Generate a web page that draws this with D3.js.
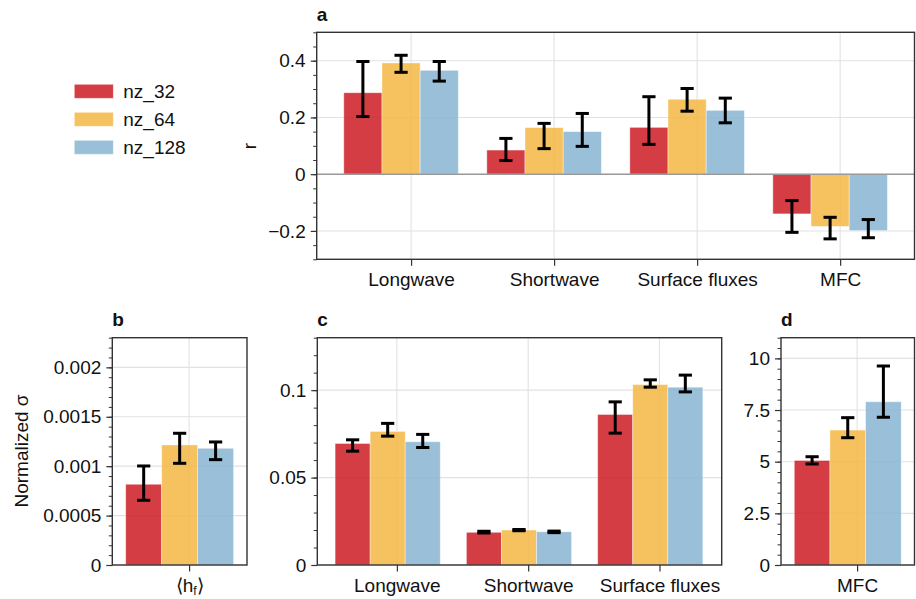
<!DOCTYPE html>
<html>
<head>
<meta charset="utf-8">
<script src="https://cdn.jsdelivr.net/npm/d3@7"></script>
<style>
  html, body { margin: 0; padding: 0; background: #fff; }
  svg { display: block; }
  text { font-family: "Liberation Sans", Arial, Helvetica, sans-serif; fill: #111; }
</style>
</head>
<body>
<svg id="fig" width="916" height="599"></svg>
<script>
// ---- series ----
const SERIES = ["nz_32", "nz_64", "nz_128"];
const COLORS = ["#cc1b23", "#f4b743", "#88b5d2"];

// ---- panel a: correlation r per process ----
const catsA = ["Longwave", "Shortwave", "Surface fluxes", "MFC"];
const rMean = [
  [0.287, 0.085, 0.165, -0.140],
  [0.392, 0.164, 0.264, -0.184],
  [0.366, 0.150, 0.225, -0.199]
];
const rLow = [
  [0.203, 0.048, 0.105, -0.205],
  [0.359, 0.090, 0.222, -0.228],
  [0.328, 0.098, 0.181, -0.224]
];
const rHigh = [
  [0.397, 0.126, 0.273, -0.093],
  [0.419, 0.179, 0.302, -0.152],
  [0.397, 0.214, 0.268, -0.160]
];
const ticksA = [-0.2, 0, 0.2, 0.4];
const tickLabelsA = ["\u22120.2", "0", "0.2", "0.4"];

// ---- panel b: normalized sigma of <h_f> ----
const hfMean = [[0.000817], [0.001215], [0.001181]];
const hfLow  = [[0.000655], [0.001029], [0.001066]];
const hfHigh = [[0.001002], [0.001333], [0.001245]];
const ticksB = [0, 0.0005, 0.001, 0.0015, 0.002];
const tickLabelsB = ["0", "0.0005", "0.001", "0.0015", "0.002"];

// ---- panel c: normalized sigma, radiative and surface terms ----
const catsC = ["Longwave", "Shortwave", "Surface fluxes"];
const sigMean = [
  [0.0695, 0.0187, 0.0861],
  [0.0764, 0.0200, 0.1032],
  [0.0705, 0.0190, 0.1017]
];
const sigLow = [
  [0.0651, 0.0183, 0.0754],
  [0.0737, 0.0196, 0.1017],
  [0.0672, 0.0185, 0.0990]
];
const sigHigh = [
  [0.0716, 0.0193, 0.0933],
  [0.0810, 0.0203, 0.1059],
  [0.0747, 0.0194, 0.1086]
];
const ticksC = [0, 0.05, 0.1];
const tickLabelsC = ["0", "0.05", "0.1"];

// ---- panel d: normalized sigma, MFC ----
const catsD = ["MFC"];
const mfcMean = [[5.06], [6.53], [7.90]];
const mfcLow  = [[4.89], [6.16], [7.15]];
const mfcHigh = [[5.24], [7.13], [9.63]];
const ticksD = [0, 2.5, 5, 7.5, 10];
const tickLabelsD = ["0", "2.5", "5", "7.5", "10"];

// ---- drawing ----
const svg = d3.select("#fig");
const FS = 19;
const BAR_W = 0.267;     // bar width in category units
const TICK_SHIFT = 0.07; // category tick offset from group centre

function drawPanel(cfg) {
  const x = d3.scaleLinear().domain(cfg.xlim).range([cfg.left, cfg.right]);
  const y = d3.scaleLinear().domain(cfg.ylim).range([cfg.bottom, cfg.top]);
  const g = svg.append("g");
  const tickX = cfg.cats.map((c, i) => i + TICK_SHIFT);

  // grid
  g.append("g").selectAll("line.h").data(cfg.ticks).join("line")
    .attr("x1", cfg.left).attr("x2", cfg.right)
    .attr("y1", d => y(d)).attr("y2", d => y(d))
    .attr("stroke", "#e2e2e2").attr("stroke-width", 1.1);
  g.append("g").selectAll("line.v").data(tickX).join("line")
    .attr("x1", d => x(d)).attr("x2", d => x(d))
    .attr("y1", cfg.top).attr("y2", cfg.bottom)
    .attr("stroke", "#e2e2e2").attr("stroke-width", 1.1);

  // bars
  const bars = [];
  cfg.mean.forEach((vals, s) => vals.forEach((v, i) => {
    bars.push({ s, i, v, lo: cfg.low[s][i], hi: cfg.high[s][i],
      xc: i + (s - 1) * BAR_W });
  }));
  g.append("g").selectAll("rect").data(bars).join("rect")
    .attr("x", d => x(d.xc - BAR_W / 2))
    .attr("width", d => x(d.xc + BAR_W / 2) - x(d.xc - BAR_W / 2))
    .attr("y", d => y(Math.max(0, d.v)))
    .attr("height", d => Math.abs(y(d.v) - y(0)))
    .attr("fill", d => COLORS[d.s]).attr("fill-opacity", 0.85)
    .attr("stroke", "#fff").attr("stroke-opacity", 0.5).attr("stroke-width", 0.8);

  // zero line
  if (cfg.ylim[0] < 0) {
    g.append("line").attr("x1", cfg.left).attr("x2", cfg.right)
      .attr("y1", y(0)).attr("y2", y(0))
      .attr("stroke", "#9a9a9a").attr("stroke-width", 1.6);
  }

  // error bars
  const eb = g.append("g").attr("stroke", "#000").attr("stroke-width", 3).attr("fill", "none");
  const cap = 6.6;
  bars.forEach(d => {
    const cx = x(d.xc);
    eb.append("line").attr("x1", cx).attr("x2", cx).attr("y1", y(d.lo)).attr("y2", y(d.hi));
    eb.append("line").attr("x1", cx - cap).attr("x2", cx + cap).attr("y1", y(d.lo)).attr("y2", y(d.lo));
    eb.append("line").attr("x1", cx - cap).attr("x2", cx + cap).attr("y1", y(d.hi)).attr("y2", y(d.hi));
  });

  // minor y ticks
  const minor = d3.range(cfg.ylim[0], cfg.ylim[1] + cfg.minor / 2, cfg.minor)
    .map(v => +v.toFixed(8));
  g.append("g").attr("transform", `translate(${cfg.left},0)`)
    .call(d3.axisLeft(y).tickValues(minor).tickSize(3.5).tickFormat(""))
    .call(a => a.select(".domain").remove())
    .call(a => a.selectAll("line").attr("stroke", "#333").attr("stroke-width", 1));

  // major y ticks
  g.append("g").attr("transform", `translate(${cfg.left},0)`)
    .call(d3.axisLeft(y).tickValues(cfg.ticks).tickSize(6).tickPadding(5)
      .tickFormat((d, i) => cfg.tickLabels[i]))
    .call(a => a.select(".domain").remove())
    .call(a => a.selectAll("line").attr("stroke", "#333").attr("stroke-width", 1.2))
    .call(a => a.selectAll("text").attr("font-size", FS).attr("fill", "#111")
      .attr("font-family", "Liberation Sans, Arial, sans-serif"));

  // x ticks and category labels
  const xa = g.append("g").attr("transform", `translate(0,${cfg.bottom})`)
    .call(d3.axisBottom(x).tickValues(tickX).tickSize(6.5).tickPadding(7)
      .tickFormat((d, i) => cfg.cats[i]))
    .call(a => a.select(".domain").remove())
    .call(a => a.selectAll("line").attr("stroke", "#333").attr("stroke-width", 1.2))
    .call(a => a.selectAll("text").attr("font-size", FS).attr("fill", "#111")
      .attr("font-family", "Liberation Sans, Arial, sans-serif"));
  if (cfg.labelFn) cfg.labelFn(xa.selectAll("text"));

  // frame
  g.append("rect").attr("x", cfg.left).attr("y", cfg.top)
    .attr("width", cfg.right - cfg.left).attr("height", cfg.bottom - cfg.top)
    .attr("fill", "none").attr("stroke", "#333").attr("stroke-width", 1.4);

  // panel letter
  svg.append("text").attr("x", cfg.left).attr("y", cfg.top - 11.5)
    .attr("font-size", FS).attr("font-weight", "bold").text(cfg.letter);
}

drawPanel({
  letter: "a", left: 316.7, right: 914.5, top: 32.3, bottom: 259.3,
  xlim: [-0.59, 3.59], ylim: [-0.3, 0.5], minor: 0.05,
  ticks: ticksA, tickLabels: tickLabelsA, cats: catsA,
  mean: rMean, low: rLow, high: rHigh
});
drawPanel({
  letter: "b", left: 112.3, right: 247, top: 337.7, bottom: 565,
  xlim: [-0.5, 0.5], ylim: [0, 0.0023], minor: 0.0001,
  ticks: ticksB, tickLabels: tickLabelsB, cats: ["hf"],
  mean: hfMean, low: hfLow, high: hfHigh,
  labelFn: sel => {
    sel.text(null);
    sel.append("tspan").text("\u27E8h");
    sel.append("tspan").attr("font-size", 12).attr("dy", 3).text("f");
    sel.append("tspan").attr("dy", -3).text("\u27E9");
  }
});
drawPanel({
  letter: "c", left: 317.3, right: 721.7, top: 337.7, bottom: 565,
  xlim: [-0.536, 2.544], ylim: [0, 0.13], minor: 0.01,
  ticks: ticksC, tickLabels: tickLabelsC, cats: catsC,
  mean: sigMean, low: sigLow, high: sigHigh
});
drawPanel({
  letter: "d", left: 781, right: 914.5, top: 337.7, bottom: 565,
  xlim: [-0.5, 0.5], ylim: [0, 11], minor: 0.5,
  ticks: ticksD, tickLabels: tickLabelsD, cats: catsD,
  mean: mfcMean, low: mfcLow, high: mfcHigh
});

// axis titles
svg.append("text").attr("transform", "translate(256,146) rotate(-90)")
  .attr("text-anchor", "middle").attr("font-size", FS).text("r");
svg.append("text").attr("transform", "translate(28,451) rotate(-90)")
  .attr("text-anchor", "middle").attr("font-size", FS).text("Normalized \u03C3");

// legend
const leg = svg.append("g").selectAll("g").data(SERIES).join("g")
  .attr("transform", (d, i) => `translate(74.3,${84.3 + i * 28})`);
leg.append("rect").attr("width", 39).attr("height", 14)
  .attr("fill", (d, i) => COLORS[i]).attr("fill-opacity", 0.85)
  .attr("stroke", "#fff").attr("stroke-opacity", 0.5).attr("stroke-width", 0.8);
leg.append("text").attr("x", 49).attr("y", 7).attr("dy", "0.35em")
  .attr("font-size", FS).text(d => d);
</script>
</body>
</html>
